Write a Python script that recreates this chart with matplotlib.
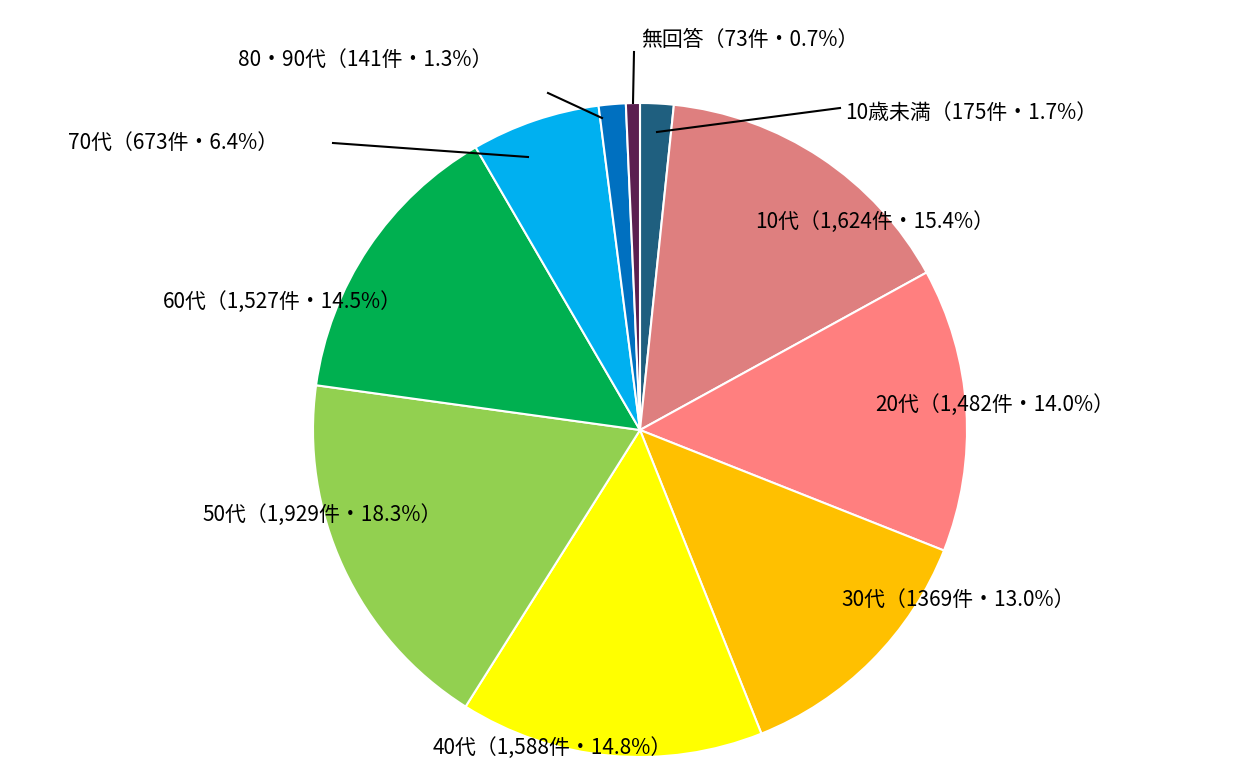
import matplotlib
matplotlib.use("Agg")
import matplotlib.pyplot as plt

plt.rcParams['font.family'] = ['Noto Sans CJK JP', 'DejaVu Sans']

categories = ["10歳未満", "10代", "20代", "30代", "40代", "50代", "60代", "70代", "80・90代", "無回答"]
counts = [175, 1624, 1482, 1369, 1588, 1929, 1527, 673, 141, 73]
count_labels = ["175", "1,624", "1,482", "1369", "1,588", "1,929", "1,527", "673", "141", "73"]
pct_labels = ["1.7", "15.4", "14.0", "13.0", "14.8", "18.3", "14.5", "6.4", "1.3", "0.7"]
colors = ["#1F5F7F", "#DE7F7F", "#FF7F7F", "#FFC000", "#FFFF00", "#92D050", "#00B050", "#00B0F0", "#0070C0", "#5B1F50"]

fig = plt.figure(figsize=(12.58, 7.83), dpi=100)
ax = fig.add_axes([0, 0, 1, 1])
ax.set_xlim(0, 1258)
ax.set_ylim(-783, 0)
ax.set_aspect('equal')
ax.axis('off')

cx, cy, r = 640, -430, 327
ax.pie(counts, colors=colors, startangle=90, counterclock=False, center=(cx, cy), radius=r,
       wedgeprops=dict(edgecolor='white', linewidth=1.5), frame=True)
ax.set_xlim(0, 1258)
ax.set_ylim(-783, 0)
ax.axis('off')

# label positions (pixel coords, y downward), alignment
pos = [(845, 113, 'left'), (875, 222, 'center'), (995, 405, 'center'), (958, 600, 'center'),
       (552, 748, 'center'), (322, 515, 'center'), (282, 302, 'center'), (173, 143, 'center'),
       (365, 60, 'center'), (750, 40, 'center')]
for cat, c, p, (x, y, ha) in zip(categories, count_labels, pct_labels, pos):
    ax.text(x, -y, f"{cat}（{c}件・{p}%）", ha=ha, va='center', fontsize=15, color='black')

leaders = {0: ((840, 108), (657, 132)), 9: ((634, 52), (633, 103)),
           7: ((333, 143), (528, 157)), 8: ((548, 93), (602, 118))}
for i, ((x1, y1), (x2, y2)) in leaders.items():
    ax.plot([x1, x2], [-y1, -y2], color='black', lw=1.5)

fig.savefig("out.png", dpi=100)
